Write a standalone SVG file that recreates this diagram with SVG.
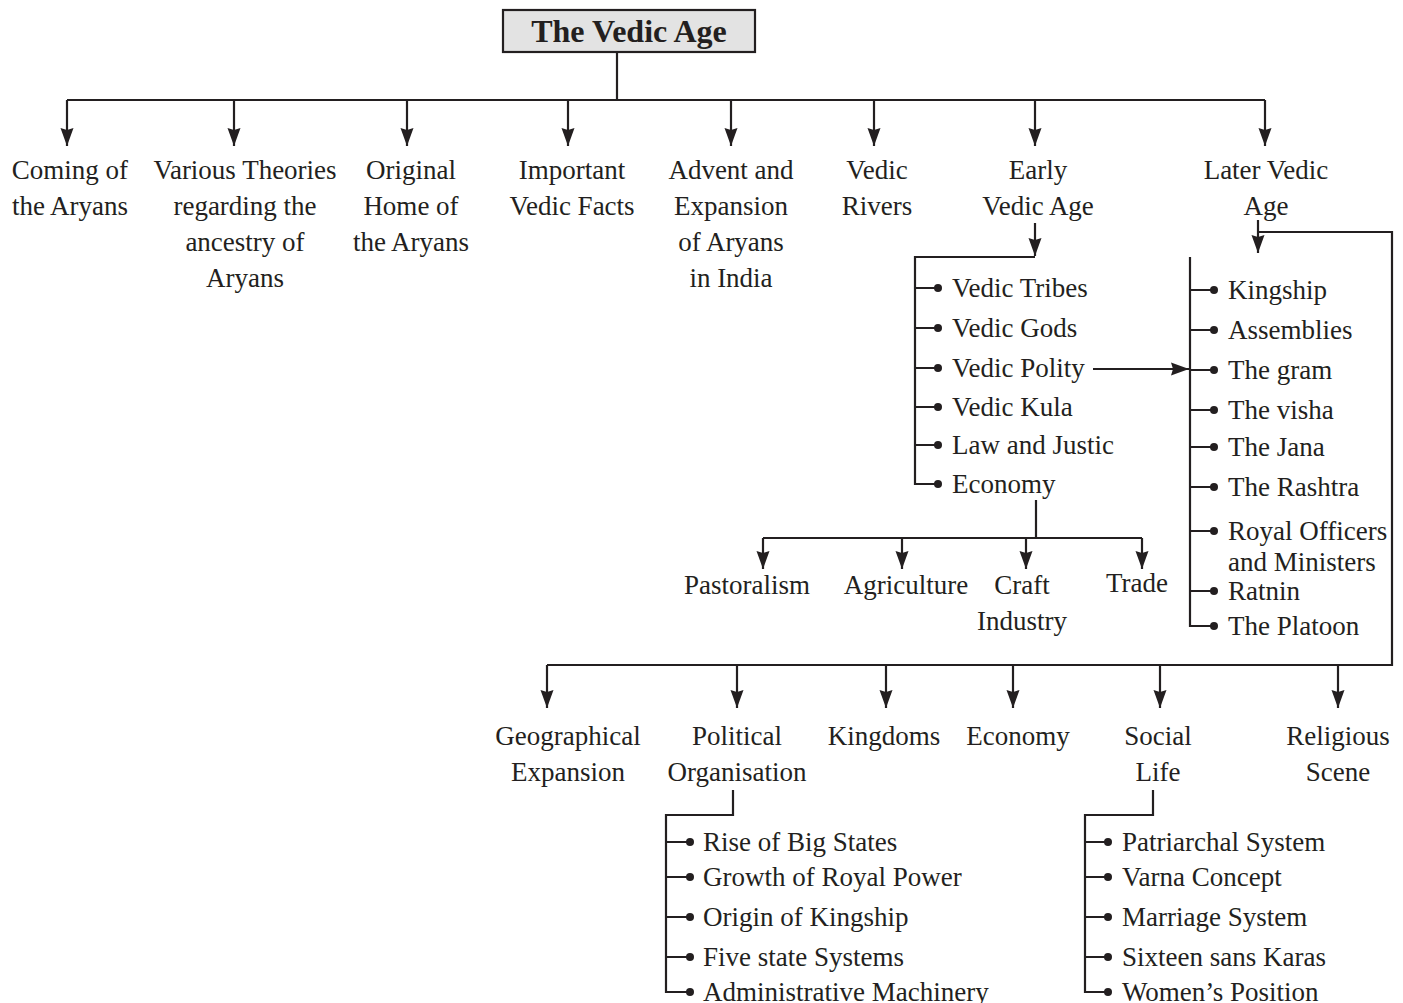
<svg xmlns="http://www.w3.org/2000/svg" width="1403" height="1003" viewBox="0 0 1403 1003">
  <style>
    .ln { fill: none; stroke: #231f20; stroke-width: 2.2; }
    .ar { fill: none; stroke: #231f20; stroke-width: 2.2; marker-end: url(#head); }
    .dot { fill: #231f20; }
    text { font-family: "Liberation Serif", "Times New Roman", serif; font-size: 27px; fill: #231f20; }
    .c { text-anchor: middle; }
    .title { font-size: 32px; font-weight: bold; }
  </style>
  <defs>
    <marker id="head" markerUnits="userSpaceOnUse" markerWidth="20" markerHeight="14" viewBox="0 0 20 14" refX="19" refY="7" orient="auto">
      <path d="M1,0.5 L19,7 L1,13.5 L3,7 Z" fill="#231f20"/>
    </marker>
  </defs>

  <!-- Title -->
  <g id="n-title">
    <rect x="503" y="10" width="252" height="42" fill="#e3e3e3" stroke="#231f20" stroke-width="2.2"/>
    <text class="c title" x="629" y="42">The Vedic Age</text>
  </g>

  <!-- Connectors -->
  <g id="connectors">
    <path class="ln" d="M617,52 V100 M67,100 H1265"/>
    <path class="ar" d="M67,100 V146"/>
    <path class="ar" d="M234,100 V146"/>
    <path class="ar" d="M407,100 V146"/>
    <path class="ar" d="M568,100 V146"/>
    <path class="ar" d="M731,100 V146"/>
    <path class="ar" d="M874,100 V146"/>
    <path class="ar" d="M1035,100 V146"/>
    <path class="ar" d="M1265,100 V146"/>

    <!-- Early Vedic Age list -->
    <path class="ar" d="M1035,223 V256"/>
    <path class="ln" d="M1035,257 H915 V484 H938"/>
    <path class="ln" d="M915,288 H938 M915,328 H938 M915,368 H938 M915,407 H938 M915,445 H938"/>
    <path class="ar" d="M1093,369 H1189"/>

    <!-- Economy branches -->
    <path class="ln" d="M1036,500 V538 M763,538 H1142"/>
    <path class="ar" d="M763,538 V569"/>
    <path class="ar" d="M902,538 V569"/>
    <path class="ar" d="M1026,538 V569"/>
    <path class="ar" d="M1142,538 V569"/>

    <!-- Later Vedic Age list -->
    <path class="ar" d="M1258,220 V253"/>
    <path class="ln" d="M1258,232 H1392 V665 H547"/>
    <path class="ln" d="M1190,257 V626 H1214"/>
    <path class="ln" d="M1190,290 H1214 M1190,330 H1214 M1190,370 H1214 M1190,410 H1214 M1190,447 H1214 M1190,487 H1214 M1190,531 H1214 M1190,591 H1214"/>

    <!-- Later Vedic branches -->
    <path class="ar" d="M547,665 V708"/>
    <path class="ar" d="M737,665 V708"/>
    <path class="ar" d="M886,665 V708"/>
    <path class="ar" d="M1013,665 V708"/>
    <path class="ar" d="M1160,665 V708"/>
    <path class="ar" d="M1338,665 V708"/>

    <!-- Political Organisation list -->
    <path class="ln" d="M733,790 V815 H666 V992 H690"/>
    <path class="ln" d="M666,842 H690 M666,877 H690 M666,917 H690 M666,957 H690"/>

    <!-- Social Life list -->
    <path class="ln" d="M1153,790 V815 H1085 V992 H1108"/>
    <path class="ln" d="M1085,842 H1108 M1085,877 H1108 M1085,917 H1108 M1085,957 H1108"/>
  </g>

  <!-- Top level nodes -->
  <g id="n-coming"><text class="c" x="70" y="179">Coming of</text><text class="c" x="70" y="215">the Aryans</text></g>
  <g id="n-theories"><text class="c" x="245" y="179">Various Theories</text><text class="c" x="245" y="215">regarding the</text><text class="c" x="245" y="251">ancestry of</text><text class="c" x="245" y="287">Aryans</text></g>
  <g id="n-home"><text class="c" x="411" y="179">Original</text><text class="c" x="411" y="215">Home of</text><text class="c" x="411" y="251">the Aryans</text></g>
  <g id="n-facts"><text class="c" x="572" y="179">Important</text><text class="c" x="572" y="215">Vedic Facts</text></g>
  <g id="n-advent"><text class="c" x="731" y="179">Advent and</text><text class="c" x="731" y="215">Expansion</text><text class="c" x="731" y="251">of Aryans</text><text class="c" x="731" y="287">in India</text></g>
  <g id="n-rivers"><text class="c" x="877" y="179">Vedic</text><text class="c" x="877" y="215">Rivers</text></g>
  <g id="n-early"><text class="c" x="1038" y="179">Early</text><text class="c" x="1038" y="215">Vedic Age</text></g>
  <g id="n-later"><text class="c" x="1266" y="179">Later Vedic</text><text class="c" x="1266" y="215">Age</text></g>

  <!-- Early Vedic Age items -->
  <g id="n-early-items">
    <circle class="dot" cx="938" cy="288" r="4"/><text x="952" y="297">Vedic Tribes</text>
    <circle class="dot" cx="938" cy="328" r="4"/><text x="952" y="337">Vedic Gods</text>
    <circle class="dot" cx="938" cy="368" r="4"/><text x="952" y="377">Vedic Polity</text>
    <circle class="dot" cx="938" cy="407" r="4"/><text x="952" y="416">Vedic Kula</text>
    <circle class="dot" cx="938" cy="445" r="4"/><text x="952" y="454">Law and Justic</text>
    <circle class="dot" cx="938" cy="484" r="4"/><text x="952" y="493">Economy</text>
  </g>

  <!-- Economy sub-nodes -->
  <g id="n-pastoralism"><text class="c" x="747" y="594">Pastoralism</text></g>
  <g id="n-agriculture"><text class="c" x="906" y="594">Agriculture</text></g>
  <g id="n-craft"><text class="c" x="1022" y="594">Craft</text><text class="c" x="1022" y="630">Industry</text></g>
  <g id="n-trade"><text class="c" x="1137" y="592">Trade</text></g>

  <!-- Later Vedic Age items -->
  <g id="n-later-items">
    <circle class="dot" cx="1214" cy="290" r="4"/><text x="1228" y="299">Kingship</text>
    <circle class="dot" cx="1214" cy="330" r="4"/><text x="1228" y="339">Assemblies</text>
    <circle class="dot" cx="1214" cy="370" r="4"/><text x="1228" y="379">The gram</text>
    <circle class="dot" cx="1214" cy="410" r="4"/><text x="1228" y="419">The visha</text>
    <circle class="dot" cx="1214" cy="447" r="4"/><text x="1228" y="456">The Jana</text>
    <circle class="dot" cx="1214" cy="487" r="4"/><text x="1228" y="496">The Rashtra</text>
    <circle class="dot" cx="1214" cy="531" r="4"/><text x="1228" y="540">Royal Officers</text><text x="1228" y="571">and Ministers</text>
    <circle class="dot" cx="1214" cy="591" r="4"/><text x="1228" y="600">Ratnin</text>
    <circle class="dot" cx="1214" cy="626" r="4"/><text x="1228" y="635">The Platoon</text>
  </g>

  <!-- Later Vedic branches -->
  <g id="n-geo"><text class="c" x="568" y="745">Geographical</text><text class="c" x="568" y="781">Expansion</text></g>
  <g id="n-political"><text class="c" x="737" y="745">Political</text><text class="c" x="737" y="781">Organisation</text></g>
  <g id="n-kingdoms"><text class="c" x="884" y="745">Kingdoms</text></g>
  <g id="n-economy2"><text class="c" x="1018" y="745">Economy</text></g>
  <g id="n-social"><text class="c" x="1158" y="745">Social</text><text class="c" x="1158" y="781">Life</text></g>
  <g id="n-religious"><text class="c" x="1338" y="745">Religious</text><text class="c" x="1338" y="781">Scene</text></g>

  <!-- Political Organisation items -->
  <g id="n-political-items">
    <circle class="dot" cx="690" cy="842" r="4"/><text x="703" y="851">Rise of Big States</text>
    <circle class="dot" cx="690" cy="877" r="4"/><text x="703" y="886">Growth of Royal Power</text>
    <circle class="dot" cx="690" cy="917" r="4"/><text x="703" y="926">Origin of Kingship</text>
    <circle class="dot" cx="690" cy="957" r="4"/><text x="703" y="966">Five state Systems</text>
    <circle class="dot" cx="690" cy="992" r="4"/><text x="703" y="1001">Administrative Machinery</text>
  </g>

  <!-- Social Life items -->
  <g id="n-social-items">
    <circle class="dot" cx="1108" cy="842" r="4"/><text x="1122" y="851">Patriarchal System</text>
    <circle class="dot" cx="1108" cy="877" r="4"/><text x="1122" y="886">Varna Concept</text>
    <circle class="dot" cx="1108" cy="917" r="4"/><text x="1122" y="926">Marriage System</text>
    <circle class="dot" cx="1108" cy="957" r="4"/><text x="1122" y="966">Sixteen sans Karas</text>
    <circle class="dot" cx="1108" cy="992" r="4"/><text x="1122" y="1001">Women’s Position</text>
  </g>
</svg>
